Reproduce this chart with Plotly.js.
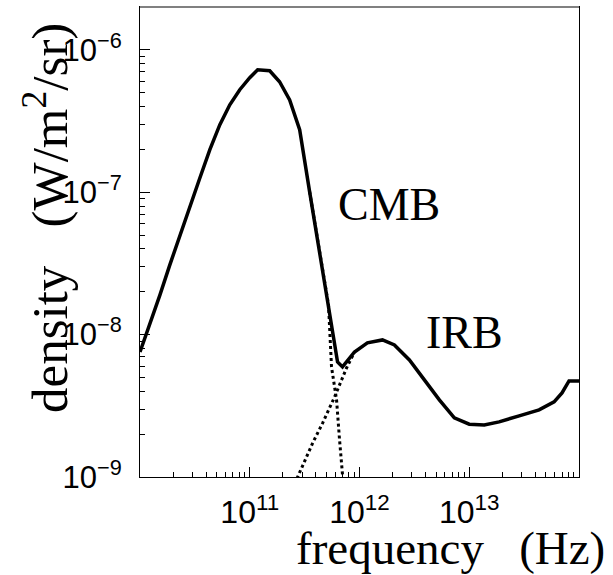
<!DOCTYPE html>
<html>
<head>
<meta charset="utf-8">
<script src="https://cdn.plot.ly/plotly-3.0.1.min.js"></script>
<style>
  html, body { margin: 0; padding: 0; background: #fff; }
  #chart { width: 613px; height: 575px; }
</style>
</head>
<body>
<div id="chart"></div>
<script>
// Total spectrum (solid)
var totalFreq = [1.0e10, 1.23e10, 1.52e10, 1.87e10, 2.31e10, 2.85e10, 3.51e10, 4.33e10, 5.34e10, 6.58e10,
                 8.11e10, 1.0e11, 1.18e11, 1.52e11, 1.87e11, 2.31e11, 2.85e11, 3.51e11, 4.33e11, 5.34e11,
                 6.31e11, 7.0e11, 9.0e11, 1.18e12, 1.62e12, 2.08e12, 2.85e12, 3.90e12, 5.34e12, 7.31e12,
                 1.0e13, 1.37e13, 1.87e13, 2.85e13, 4.33e13, 5.93e13, 7.0e13, 8.11e13, 1.0e14];
var totalDensity = [7.55e-9, 1.17e-8, 1.90e-8, 3.09e-8, 5.02e-8, 8.15e-8, 1.26e-7, 1.99e-7, 2.98e-7, 4.11e-7,
                    5.25e-7, 6.37e-7, 7.24e-7, 7.13e-7, 5.97e-7, 4.45e-7, 2.75e-7, 1.01e-7, 3.69e-8, 1.35e-8,
                    6.43e-9, 5.93e-9, 7.55e-9, 8.75e-9, 9.18e-9, 8.47e-9, 6.64e-9, 4.81e-9, 3.48e-9, 2.60e-9,
                    2.35e-9, 2.32e-9, 2.44e-9, 2.69e-9, 2.96e-9, 3.37e-9, 3.89e-9, 4.73e-9, 4.73e-9];

// CMB component (dotted, Wien tail)
var cmbFreq = [3.51e11, 4.33e11, 5.22e11, 5.56e11, 6.18e11, 6.58e11, 7.0e11, 7.46e11];
var cmbDensity = [1.01e-7, 3.69e-8, 1.62e-8, 5.93e-9, 3.48e-9, 1.82e-9, 1.07e-9, 5.86e-10];

// IRB component (dotted, rising part)
var irbFreq = [2.31e11, 2.85e11, 3.74e11, 4.61e11, 5.93e11, 7.62e11, 9.0e11];
var irbDensity = [7.48e-10, 1.07e-9, 1.73e-9, 2.39e-9, 3.65e-9, 5.83e-9, 7.55e-9];

// Tick labels
var xTickVals = [1e11, 1e12, 1e13];
var xTickText = ["10<sup>11</sup>", "10<sup>12</sup>", "10<sup>13</sup>"];
var yTickVals = [1e-9, 1e-8, 1e-7, 1e-6];
var yTickText = ["10<sup>\u22129</sup>", "10<sup>\u22128</sup>", "10<sup>\u22127</sup>", "10<sup>\u22126</sup>"];

// Minor tick positions (2..9 in each decade)
function minorVals(e0, e1) {
  var v = [];
  for (var e = e0; e < e1; e++) {
    for (var m = 2; m <= 9; m++) v.push(m * Math.pow(10, e));
  }
  return v;
}

var traces = [
  { x: cmbFreq, y: cmbDensity, type: 'scatter', mode: 'lines',
    line: { color: '#000', width: 3, dash: 'dot' }, hoverinfo: 'skip', name: 'CMB' },
  { x: irbFreq, y: irbDensity, type: 'scatter', mode: 'lines',
    line: { color: '#000', width: 3, dash: 'dot' }, hoverinfo: 'skip', name: 'IRB' },
  { x: totalFreq, y: totalDensity, type: 'scatter', mode: 'lines',
    line: { color: '#000', width: 3.5 }, hoverinfo: 'skip', name: 'total' }
];

var sans = 'Liberation Sans, Arial, sans-serif';
var serif = 'Liberation Serif, Times New Roman, serif';

var layout = {
  width: 613, height: 575,
  margin: { l: 140, r: 34, t: 7, b: 98, pad: 0 },
  paper_bgcolor: '#fff', plot_bgcolor: '#fff',
  showlegend: false,
  xaxis: {
    type: 'log', range: [10, 14],
    showgrid: false, zeroline: false,
    showline: true, linecolor: '#000', linewidth: 1, mirror: true,
    tickmode: 'array', tickvals: xTickVals, ticktext: xTickText,
    ticks: 'inside', ticklen: 10, tickwidth: 1, tickcolor: '#000',
    tickfont: { family: sans, size: 32, color: '#000' }, ticklabelstandoff: 7,
    minor: { tickmode: 'array', tickvals: minorVals(10, 14), ticks: 'inside', ticklen: 5, tickwidth: 1, tickcolor: '#000', showgrid: false }
  },
  yaxis: {
    type: 'log', range: [-9, -5.699],
    showgrid: false, zeroline: false,
    showline: true, linecolor: '#000', linewidth: 1, mirror: true,
    tickmode: 'array', tickvals: yTickVals, ticktext: yTickText,
    ticks: 'inside', ticklen: 10, tickwidth: 1, tickcolor: '#000',
    tickfont: { family: sans, size: 31, color: '#000' }, ticklabelstandoff: 11,
    minor: { tickmode: 'array', tickvals: minorVals(-9, -6), ticks: 'inside', ticklen: 5, tickwidth: 1, tickcolor: '#000', showgrid: false }
  },
  shapes: [
    { type: 'line', xref: 'paper', yref: 'paper', x0: 0, x1: 1, y0: 1, y1: 1,
      line: { color: '#808080', width: 2 } }
  ],
  annotations: [
    { text: 'CMB', xref: 'paper', yref: 'paper', x: (389 - 140) / 439, y: (477 - 204) / 470,
      xanchor: 'center', yanchor: 'middle', showarrow: false,
      font: { family: serif, size: 46, color: '#000' } },
    { text: 'IRB', xref: 'paper', yref: 'paper', x: (464 - 140) / 439, y: (477 - 332) / 470,
      xanchor: 'center', yanchor: 'middle', showarrow: false,
      font: { family: serif, size: 46, color: '#000' } },
    { text: 'frequency\u00a0\u00a0\u00a0(Hz)', xref: 'paper', yref: 'paper', x: (607 - 140) / 439, y: (477 - 548) / 470,
      xanchor: 'right', yanchor: 'middle', showarrow: false,
      font: { family: serif, size: 47, color: '#000' } },
    { text: 'density\u00a0\u00a0\u00a0(W/m<sup>2</sup>/sr)', xref: 'paper', yref: 'paper', x: (46 - 140) / 439, y: (477 - 218) / 470,
      xanchor: 'center', yanchor: 'middle', textangle: -90, showarrow: false,
      font: { family: serif, size: 51, color: '#000' } }
  ]
};

Plotly.newPlot('chart', traces, layout, { staticPlot: true, displayModeBar: false });
</script>
</body>
</html>
